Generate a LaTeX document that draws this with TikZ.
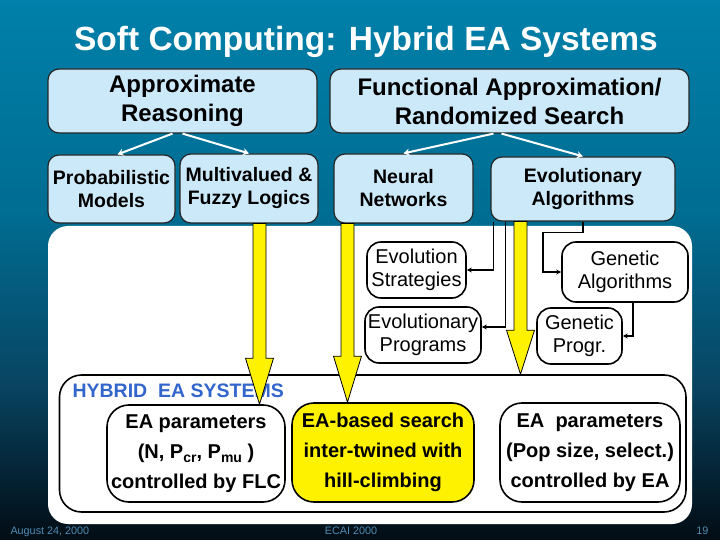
\documentclass[tikz,border=0pt]{standalone}
\usepackage{fontspec}
\setmainfont{Liberation Sans}
\usetikzlibrary{calc,arrows.meta}
\definecolor{bgtop}{RGB}{0,128,170}
\definecolor{bgmid}{RGB}{0,108,145}
\definecolor{bgmidb}{RGB}{8,70,100}
\definecolor{bgbot}{RGB}{2,12,20}
\definecolor{lblue}{RGB}{204,233,250}
\definecolor{hyblue}{RGB}{51,102,204}
\definecolor{foot}{RGB}{80,140,180}
\pgfdeclareverticalshading{bgshade}{100bp}{color(0bp)=(bgbot); color(25bp)=(bgbot); color(40bp)=(bgmidb); color(55bp)=(bgmid); color(75bp)=(bgtop); color(100bp)=(bgtop)}
\newcommand\lowsub[1]{\raisebox{-0.35ex}{\fontsize{14}{14}\selectfont #1}}
\newcommand\yellowarrow[3]{%
  \draw[yarrow] let \p1=(#1), \p2=(#2) in
    (\x1-6.5pt,\y1) -- (\x1-6.5pt,\y2+#3) -- (\x1-14pt,\y2+#3) -- (\x1,\y2)
    -- (\x1+14pt,\y2+#3) -- (\x1+6.5pt,\y2+#3) -- (\x1+6.5pt,\y1) -- cycle;}
\begin{document}
\begin{tikzpicture}[x=1pt,y=-1pt,
  topbox/.style={draw=black!85, line width=1.2pt, fill=lblue, rounded corners=11pt,
    font=\bfseries\fontsize{24}{29}\selectfont, align=center, inner sep=0pt},
  midbox/.style={topbox, font=\bfseries\fontsize{19.5}{23}\selectfont},
  wbox/.style={draw=black, line width=1.6pt, fill=white, rounded corners=14pt,
    font=\fontsize{20}{23.5}\selectfont, align=center, inner sep=0pt},
  hbox/.style={draw=black, line width=1.6pt, rounded corners=22pt,
    font=\bfseries\fontsize{20}{30}\selectfont, align=center, inner sep=0pt},
  panel/.style={fill=white, rounded corners=20pt, inner sep=0pt},
  conn/.style={draw=black, line width=1.5pt, -{Stealth[length=5pt,width=5pt]}},
  warrow/.style={draw=white, line width=2pt, -{Stealth[length=6pt,width=7pt]}},
  yarrow/.style={draw=black, line width=0.8pt, fill=yellow, line join=miter},
  foottext/.style={text=foot, font=\fontsize{10.8}{12}\selectfont}
]
\useasboundingbox (0,0) rectangle (720,540);
\shade[shading=bgshade] (0,0) rectangle (720,540);

% title
\node[text=white, font=\bfseries\fontsize{33.5}{36}\selectfont, anchor=base] (title) at (366,51) {Soft Computing: Hybrid EA Systems};

% top row
\node[topbox, minimum width=269pt, minimum height=64pt] (ar) at (182.5,101) {Approximate\\Reasoning};
\node[topbox, minimum width=359pt, minimum height=64pt] (fa) at (509.5,101) {Functional Approximation/\\Randomized Search};

% second row
\node[midbox, minimum width=127pt, minimum height=68pt] (pm) at (111.5,189) {Probabilistic\\Models};
\node[midbox, minimum width=138pt, minimum height=69pt] (mf) at (249,188.5) {Multivalued \&\\Fuzzy Logics};
\node[midbox, minimum width=139pt, minimum height=69pt] (nn) at (403.5,188.5) {Neural\\Networks};
\node[midbox, minimum width=184pt, minimum height=64pt] (ea) at (583,189) {Evolutionary\\Algorithms};

\draw[warrow] ([xshift=-10pt]ar.south) -- ([xshift=6pt]pm.north);
\draw[warrow] (ar.south) -- (mf.north);
\draw[warrow] ([xshift=-16pt]fa.south) -- (nn.north);
\draw[warrow] ([xshift=-8pt]fa.south) -- (ea.north);

% white panel
\node[panel, minimum width=644pt, minimum height=298pt] (wp) at (370,375) {};

% EA family
\node[wbox, minimum width=99pt, minimum height=56pt] (es) at (416.5,270) {Evolution\\Strategies};
\node[wbox, minimum width=116pt, minimum height=56pt] (ep) at (423,335) {Evolutionary\\Programs};
\node[wbox, minimum width=126pt, minimum height=60pt] (ga) at (625,272) {Genetic\\Algorithms};
\node[wbox, minimum width=85pt, minimum height=56pt] (gp) at (579.5,336) {Genetic\\Progr.};

\draw[conn] ([xshift=3pt]ea.south west) |- (es.east);
\draw[conn] ([xshift=15pt]ea.south west) |- ([yshift=8pt]ep.east);
\draw[conn] (ea.south) -- ++(0,11) -- ++(-40,0) |- (ga.west);
\draw[conn] ([xshift=8pt]ga.south) |- (gp.east);

% hybrid panel
\node[draw=black, line width=1.6pt, rounded corners=22pt, minimum width=626.5pt, minimum height=137pt, inner sep=0pt] (hp) at (372.75,443.5) {};
\node[anchor=base west, text=hyblue, font=\bfseries\fontsize{19.5}{19.5}\selectfont] (hl) at (69,397) {HYBRID\ \ EA SYSTEMS};

\node[hbox, fill=white, minimum width=178pt, minimum height=97pt] (b1) at (196,453.5) {EA parameters\\(N, P\lowsub{cr}, P\lowsub{mu} )\\controlled by FLC};
\node[hbox, fill=yellow, minimum width=182pt, minimum height=99pt] (b2) at (383,452.5) {EA-based search\\inter-twined with\\hill-climbing};
\node[hbox, fill=white, minimum width=180pt, minimum height=99pt] (b3) at (590,452.5) {EA\ \ parameters\\(Pop size, select.)\\controlled by EA};

% yellow arrows
\coordinate (y1s) at ([xshift=10.5pt]mf.south);
\coordinate (y1e) at (b1.north -| y1s);
\coordinate (y2s) at ([xshift=-56pt]nn.south);
\coordinate (y2e) at (b2.north -| y2s);
\coordinate (y3s) at ([xshift=-62.5pt]ea.south);
\coordinate (y3e) at (hp.north -| y3s);
\yellowarrow{y1s}{y1e}{46pt}
\yellowarrow{y2s}{y2e}{46pt}
\yellowarrow{y3s}{y3e}{44pt}

% footer
\node[anchor=base west, foottext] (f1) at (7,534) {August 24, 2000};
\node[anchor=base, foottext] (f2) at (351,534) {ECAI 2000};
\node[anchor=base east, foottext] (f3) at (712,534) {19};
\end{tikzpicture}
\end{document}
